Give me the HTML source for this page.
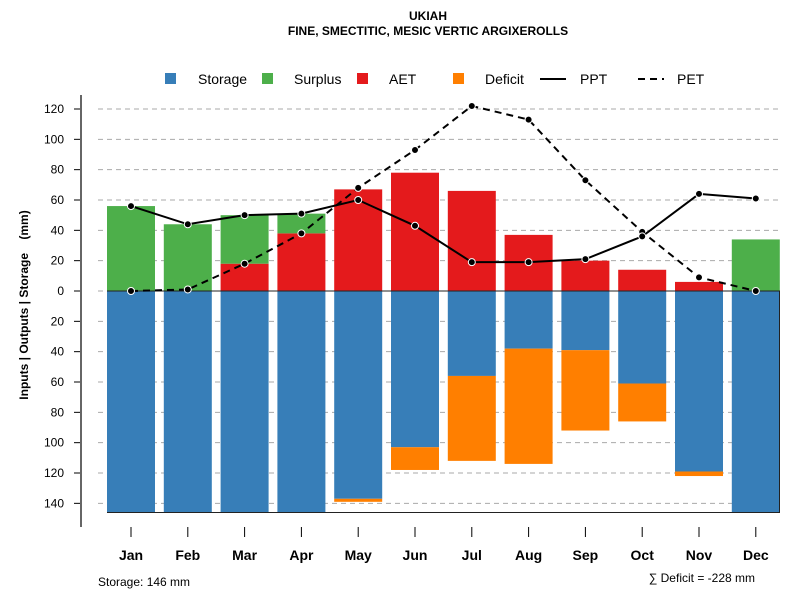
<!DOCTYPE html>
<html><head><meta charset="utf-8"><style>
body{margin:0;background:#fff;font-family:"Liberation Sans",sans-serif}
svg text{font-family:"Liberation Sans",sans-serif}
</style></head><body>
<svg id="c" width="800" height="600" xmlns="http://www.w3.org/2000/svg">
<text x="428" y="20" text-anchor="middle" font-size="12" font-weight="bold">UKIAH</text>
<text x="428" y="35" text-anchor="middle" font-size="12" font-weight="bold">FINE, SMECTITIC, MESIC VERTIC ARGIXEROLLS</text>
<g font-size="14">
<rect x="165" y="73" width="11" height="11" fill="#377eb8"/><text x="198" y="84">Storage</text>
<rect x="262" y="73" width="11" height="11" fill="#4daf4a"/><text x="294" y="84">Surplus</text>
<rect x="357" y="73" width="11" height="11" fill="#e41a1c"/><text x="389" y="84">AET</text>
<rect x="453" y="73" width="11" height="11" fill="#ff7f00"/><text x="485" y="84">Deficit</text>
<line x1="540" y1="79" x2="566" y2="79" stroke="#000" stroke-width="2"/><text x="580" y="84">PPT</text>
<line x1="638" y1="79" x2="664" y2="79" stroke="#000" stroke-width="2" stroke-dasharray="7,5"/><text x="677" y="84">PET</text>
</g>
<text transform="translate(28,305) rotate(-90)" text-anchor="middle" font-size="12" font-weight="bold" xml:space="preserve" style="white-space:pre">Inputs | Outputs | Storage    (mm)</text>
<g id="plot"></g>
<text x="98" y="586" font-size="12">Storage: 146 mm</text>
<text x="755" y="582" text-anchor="end" font-size="12">∑ Deficit = -228 mm</text>
</svg>
<script>
const months=["Jan","Feb","Mar","Apr","May","Jun","Jul","Aug","Sep","Oct","Nov","Dec"];
const aet=[0,0,18,38,67,78,66,37,20,14,6,0];
const surplus=[56,44,32,13,0,0,0,0,0,0,0,34];
const storage=[146,146,146,146,137,103,56,38,39,61,119,146];
const deficit=[0,0,0,0,2,15,56,76,53,25,3,0];
const ppt=[56,44,50,51,60,43,19,19,21,36,64,61];
const pet=[0,1,18,38,68,93,122,113,73,39,9,0];
const yTicks=[120,100,80,60,40,20,0,-20,-40,-60,-80,-100,-120,-140];
const NS="http://www.w3.org/2000/svg";
const g=document.getElementById('plot');
const y=v=>291-v*1.5167;
const x=i=>131+i*56.8;
const bw=48;
function mk(t,a,p){const e=document.createElementNS(NS,t);for(const k in a)e.setAttribute(k,a[k]);(p||g).appendChild(e);return e;}
yTicks.forEach(v=>{
 const l=mk('line',{x1:98,x2:780,y1:y(v),y2:y(v),stroke:'#aaa','stroke-dasharray':'5,4'});
 
 
 const t=mk('line',{x1:74,x2:81,y1:y(v),y2:y(v),stroke:'#000'});
 
 
 const tx=mk('text',{x:64,y:y(v)+4,'text-anchor':'end','font-size':12});
 tx.textContent=Math.abs(v);
 
 
});
const ax=mk('line',{x1:81,x2:81,y1:95,y2:527,stroke:'#666','stroke-width':2});


function bar(i,v0,v1,col,name){
 if(v1===v0)return;
 const r=mk('rect',{x:x(i)-bw/2,y:Math.min(y(v0),y(v1)),width:bw,height:Math.abs(y(v1)-y(v0)),fill:col});
 
 
}
months.forEach((m,i)=>{
 bar(i,0,-storage[i],'#377eb8','bar-storage-'+m.toLowerCase());
 bar(i,-storage[i],-storage[i]-deficit[i],'#ff7f00','bar-deficit-'+m.toLowerCase());
 bar(i,0,aet[i],'#e41a1c','bar-aet-'+m.toLowerCase());
 bar(i,aet[i],aet[i]+surplus[i],'#4daf4a','bar-surplus-'+m.toLowerCase());
 const t=mk('line',{x1:x(i),x2:x(i),y1:527,y2:537,stroke:'#000'});
 
 
 const tx=mk('text',{x:x(i),y:560,'text-anchor':'middle','font-size':14,'font-weight':'bold'});
 tx.textContent=m;
 
 
});
const zl=mk('line',{x1:107,x2:780,y1:y(0),y2:y(0),stroke:'#222'});


const bl=mk('line',{x1:107,x2:780,y1:y(-146),y2:y(-146),stroke:'#222'});


const rl=mk('line',{x1:779.5,x2:779.5,y1:y(0),y2:y(-146),stroke:'#222'});


function series(vals,dash,name){
 const p=mk('polyline',{points:vals.map((v,i)=>x(i)+','+y(v)).join(' '),fill:'none',stroke:'#000','stroke-width':2,'stroke-dasharray':dash});
 
 
 vals.forEach((v,i)=>{
  const c=mk('circle',{cx:x(i),cy:y(v),r:3.5,fill:'#000',stroke:'#fff','stroke-width':1});
  
  
 });
}
series(pet,'7,5','pet');
series(ppt,'none','ppt');
</script>
</body></html>
